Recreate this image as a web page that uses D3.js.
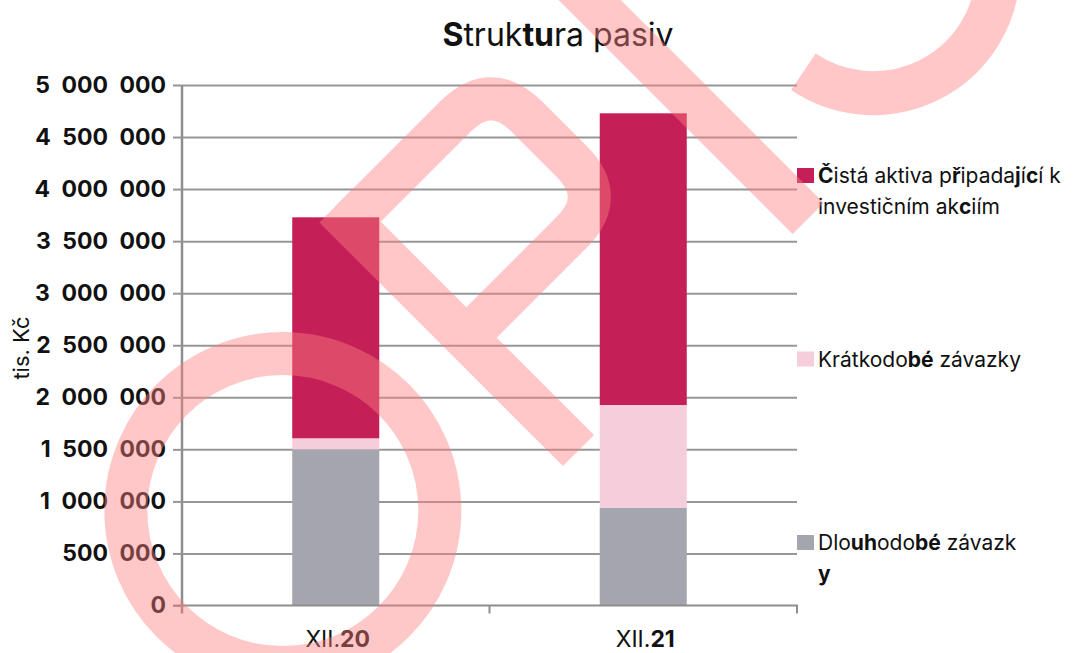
<!DOCTYPE html>
<html>
<head>
<meta charset="utf-8">
<script src="https://cdn.jsdelivr.net/npm/d3@7"></script>
<style>
    body { margin: 0; background: #fff; }
    svg { display: block; }
    text { font-family: Inter, "Noto Sans", sans-serif; fill: #111; }
</style>
</head>
<body>
<div id="chart"></div>
<script>
// categories and series values (tis. Kč)
const categories = ["XII.20", "XII.21"];
const longTermLiabilities = [1500000, 940000];
const shortTermLiabilities = [106000, 986000];
const netAssets = [2123000, 2802000];
const yTicks = [0, 500000, 1000000, 1500000, 2000000, 2500000, 3000000, 3500000, 4000000, 4500000, 5000000];

// series keys from bottom to top, colors and legend labels (* toggles bold)
const seriesKeys = ["long", "short", "net"];
const seriesColors = ["#a5a5af", "#f6cedb", "#c41f57"];
const legendLines = [
    ["Dlo*uh*odo*bé* závazk", "*y*"],
    ["Krátkodo*bé* závazky"],
    ["*Č*istá aktiva p*ř*ipada*j*í*c*í k", "investičním ak*c*iím"]
];
const titleText = "*S*truk*tu*ra pasiv";
const yTitle = "tis. Kč";

const width = 1091, height = 653;
const plot = { left: 182, right: 797, top: 85, bottom: 605.5 };

const svg = d3.select("#chart").append("svg")
    .attr("width", width)
    .attr("height", height);

// adds tspans, parts between * are bold
function richText(sel, str) {
    str.split("*").forEach((part, i) => {
        if (part) sel.append("tspan").attr("font-weight", i % 2 ? 700 : null).text(part);
    });
}

let rows = categories.map((c, i) => ({
    cat: c,
    long: longTermLiabilities[i],
    short: shortTermLiabilities[i],
    net: netAssets[i]
}));
let stacked = d3.stack().keys(seriesKeys)(rows);

let x = d3.scaleBand().domain(categories).range([plot.left, plot.right]);
let y = d3.scaleLinear().domain([0, 5000000]).range([plot.bottom, plot.top]);
let color = d3.scaleOrdinal().domain(seriesKeys).range(seriesColors);

let czLocale = d3.formatLocale({ decimal: ",", thousands: "\u2002", grouping: [3], currency: ["", " Kč"] });
let fmt = czLocale.format(",");

// gridlines
svg.append("g")
    .attr("transform", `translate(${plot.left},0)`)
    .call(d3.axisLeft(y).tickValues(yTicks.slice(1)).tickSize(-(plot.right - plot.left)).tickFormat(""))
    .call(g => g.select(".domain").remove())
    .call(g => g.selectAll("line").attr("stroke", "#979797").attr("stroke-width", 2));

// bars
let barW = x.bandwidth() * 0.283;
svg.append("g")
    .selectAll("g")
    .data(stacked)
    .join("g")
    .attr("fill", d => color(d.key))
    .selectAll("rect")
    .data(d => d)
    .join("rect")
    .attr("x", d => x(d.data.cat) + (x.bandwidth() - barW) / 2)
    .attr("y", d => y(d[1]))
    .attr("width", barW)
    .attr("height", d => y(d[0]) - y(d[1]));

// y axis
svg.append("g")
    .attr("transform", `translate(${plot.left},0)`)
    .call(d3.axisLeft(y).tickValues(yTicks).tickSize(9).tickPadding(7).tickFormat(fmt))
    .call(g => g.select(".domain").attr("stroke", "#8e8e8e").attr("stroke-width", 2.5)
        .attr("d", `M0,${plot.top}V${plot.bottom + 8}`))
    .call(g => g.selectAll("line").attr("stroke", "#979797").attr("stroke-width", 2))
    .call(g => g.selectAll("text")
        .attr("font-family", "Inter, sans-serif")
        .attr("font-size", 23)
        .attr("font-weight", 700)
        .attr("fill", "#111"));

// x axis
let xAxis = svg.append("g")
    .attr("transform", `translate(0,${plot.bottom})`);
xAxis.append("path")
    .attr("d", `M${plot.left - 9},0H${plot.right}V8`)
    .attr("fill", "none")
    .attr("stroke", "#8e8e8e")
    .attr("stroke-width", 2);
xAxis.selectAll("line")
    .data(categories.slice(1))
    .join("line")
    .attr("x1", d => x(d)).attr("x2", d => x(d))
    .attr("y1", 0).attr("y2", 8)
    .attr("stroke", "#8e8e8e")
    .attr("stroke-width", 2);
xAxis.selectAll("text")
    .data(categories)
    .join("text")
    .attr("x", d => x(d) + x.bandwidth() / 2 + 2)
    .attr("y", 41)
    .attr("text-anchor", "middle")
    .attr("font-size", 23)
    .each(function (d) {
        let parts = d.split(".");
        richText(d3.select(this), parts[0] + ".*" + parts[1] + "*");
    });

// title
let title = svg.append("text")
    .attr("x", 558)
    .attr("y", 46)
    .attr("text-anchor", "middle")
    .attr("font-size", 32);
richText(title, titleText);

// y axis title
svg.append("text")
    .attr("transform", "translate(29,348) rotate(-90)")
    .attr("text-anchor", "middle")
    .attr("font-size", 22)
    .text(yTitle);

// legend, top entry is the top series
let legendTop = 168, legendStep = 183.5;
let legend = svg.append("g")
    .selectAll("g")
    .data(seriesKeys.slice().reverse())
    .join("g")
    .attr("transform", (d, i) => `translate(797,${legendTop + i * legendStep})`);

legend.append("rect")
    .attr("width", 17)
    .attr("height", 15)
    .attr("fill", d => color(d));

legend.each(function (d) {
    let lines = legendLines[seriesKeys.indexOf(d)];
    let g = d3.select(this);
    lines.forEach((line, j) => {
        let t = g.append("text")
            .attr("x", 21)
            .attr("y", 15 + j * 31)
            .attr("font-size", 21);
        richText(t, line);
    });
});

// watermark, drawn in a frame turned by 45 degrees
let wm = svg.append("g")
    .attr("opacity", 0.43)
    .attr("fill", "none")
    .attr("stroke", "#ff8080")
    .attr("transform", "rotate(-45)");

wm.append("circle")
    .attr("cx", -161).attr("cy", 561).attr("r", 157)
    .attr("stroke-width", 43);
wm.append("path")
    .attr("d", "M90.5,383V727.6")
    .attr("stroke-width", 44);
wm.append("path")
    .attr("d", "M90.5,404.5H240Q290,404.5 290,454.5V518.5Q290,568.5 240,568.5H90.5")
    .attr("stroke-width", 43);
wm.append("path")
    .attr("d", "M417,383V726")
    .attr("stroke-width", 44);
let sPath = d3.path();
sPath.arc(640, 595, 125, 169 * Math.PI / 180, -70 * Math.PI / 180, true);
wm.append("path")
    .attr("d", sPath.toString())
    .attr("stroke-width", 44);
</script>
</body>
</html>
